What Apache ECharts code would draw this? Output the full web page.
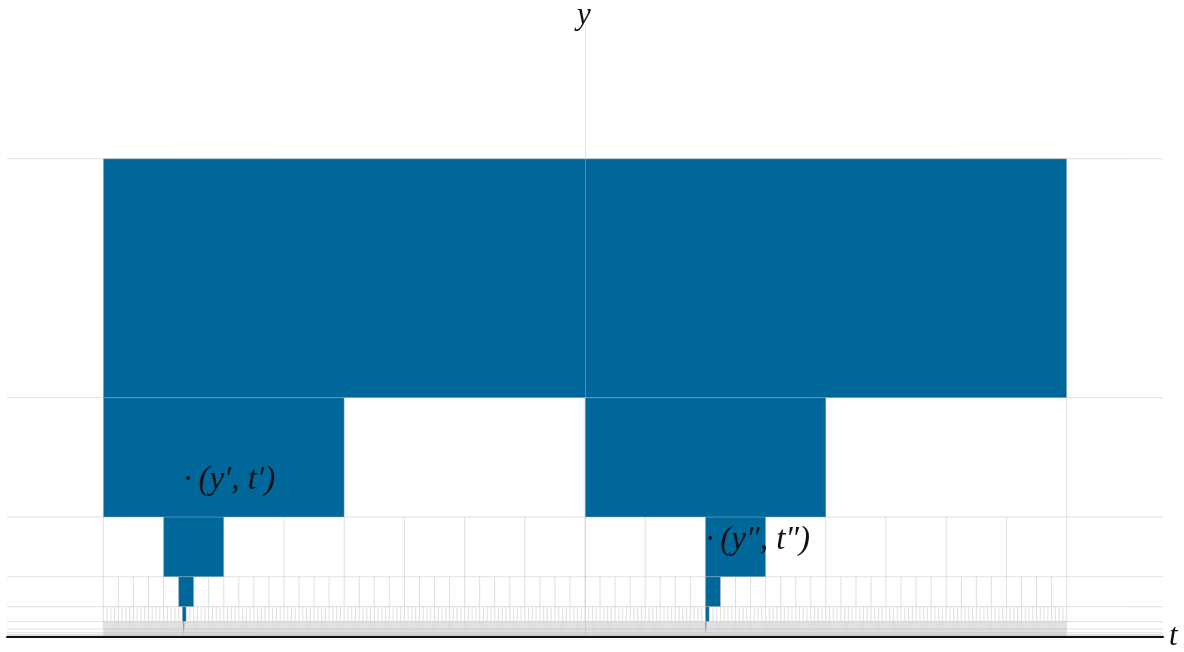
<!DOCTYPE html>
<html>
<head>
<meta charset="utf-8">
<script src="https://cdn.jsdelivr.net/npm/echarts@6/dist/echarts.min.js"></script>
<style>
  html, body { margin: 0; padding: 0; background: #ffffff; }
  #chart { width: 1184px; height: 652px; }
</style>
</head>
<body>
<div id="chart"></div>
<script>
// Dyadic time–scale tiling: each band halves in height and quarters in tile width.
const bandTops = [1, 1/2, 1/4, 1/8, 1/16, 1/32, 1/64, 1/128, 1/256, 1/512];
const tileWidths = [2, 1/2, 1/8, 1/32, 1/128, 1/512, 1/2048, 1/8192, 1/32768];

// Start of the highlighted tile in each band, for the two nested chains.
const leftChainStarts = [-1, -1, -7/8, -27/32, -107/128, -427/512, -1707/2048, -6827/8192, -27307/32768];
const rightChainStarts = [null, 0, 1/4, 1/4, 1/4, 1/4, 1/4, 1/4, 1/4];

// Point labels
const labelTexts = ['\u00b7\u2009(y\u2032, t\u2032)', '\u00b7\u2009(y\u2033, t\u2033)'];
const labelT = [-5/6, 1/4];
const labelY = [0.327, 0.202];

const T_MIN = -1.2, T_MAX = 1.2, Y_MAX = 1.28;
const BLUE = '#00679a';
const LINE = 'rgba(184,184,184,0.45)';
const FONT = '"Liberation Serif", "DejaVu Serif", serif';

// Tiles: [t0, t1, y0, y1]
const tiles = [];
for (let j = 0; j < tileWidths.length; j++) {
  const y0 = bandTops[j + 1], y1 = bandTops[j];
  [leftChainStarts[j], rightChainStarts[j]].forEach(function (s) {
    if (s === null) return;
    tiles.push([s, s + tileWidths[j], y0, y1]);
  });
}

// Grid segments: [ta, ya, tb, yb]
const segments = [];
const lineBands = 6; // bands drawn with individual vertical lines
for (let j = 0; j < lineBands; j++) {
  const w = tileWidths[j];
  const n = Math.round(2 / w);
  for (let k = 0; k <= n; k++) {
    const t = -1 + k * w;
    segments.push([t, bandTops[j + 1], t, bandTops[j]]);
  }
}
for (let j = 0; j < bandTops.length; j++) {
  segments.push([T_MIN, bandTops[j], T_MAX, bandTops[j]]);
}
// Finest bands merge into a solid shade
const shade = [[-1, 1, 0, bandTops[lineBands]]];

function rectItem(fill) {
  return function (params, api) {
    const a = api.coord([api.value(0), api.value(3)]);
    const b = api.coord([api.value(1), api.value(2)]);
    return {
      type: 'rect',
      shape: { x: a[0], y: a[1], width: b[0] - a[0], height: b[1] - a[1] },
      style: { fill: fill }
    };
  };
}

function segmentItem(params, api) {
  const a = api.coord([api.value(0), api.value(1)]);
  const b = api.coord([api.value(2), api.value(3)]);
  return {
    type: 'line',
    shape: { x1: a[0], y1: a[1], x2: b[0], y2: b[1] },
    style: { stroke: LINE, lineWidth: 1 }
  };
}

function labelItem(params, api) {
  const p = api.coord([api.value(0), api.value(1)]);
  return {
    type: 'text',
    x: p[0], y: p[1],
    style: {
      text: labelTexts[params.dataIndex],
      fill: '#111111',
      font: 'italic 33px ' + FONT,
      align: 'left',
      verticalAlign: 'middle'
    }
  };
}

const chart = echarts.init(document.getElementById('chart'), null, { renderer: 'canvas' });
chart.setOption({
  animation: false,
  grid: { left: 7, right: 21, top: 23, bottom: 15 },
  xAxis: {
    type: 'value', min: T_MIN, max: T_MAX, z: 10,
    axisLine: { onZero: true, lineStyle: { color: '#111111', width: 2 } },
    axisTick: { show: false }, axisLabel: { show: false }, splitLine: { show: false },
    name: 't', nameLocation: 'end', nameGap: 6,
    nameTextStyle: { fontFamily: FONT, fontStyle: 'italic', fontSize: 31, color: '#111111', verticalAlign: 'middle', padding: [14, 0, 0, 0] }
  },
  yAxis: {
    type: 'value', min: 0, max: Y_MAX, z: 10,
    axisLine: { onZero: true, lineStyle: { color: LINE, width: 1 } },
    axisTick: { show: false }, axisLabel: { show: false }, splitLine: { show: false },
    name: 'y', nameLocation: 'end', nameGap: -6,
    nameTextStyle: { fontFamily: FONT, fontStyle: 'italic', fontSize: 31, color: '#111111', padding: [0, 2, 0, 0] }
  },
  series: [
    {
      type: 'custom', z: 1, renderItem: rectItem('#dedede'),
      encode: { x: [0, 1], y: [2, 3] }, data: shade, silent: true
    },
    {
      type: 'custom', z: 2, renderItem: rectItem(BLUE),
      encode: { x: [0, 1], y: [2, 3] }, data: tiles, silent: true
    },
    {
      type: 'custom', z: 3, renderItem: segmentItem,
      encode: { x: [0, 2], y: [1, 3] }, data: segments, silent: true
    },
    {
      type: 'custom', z: 4, renderItem: labelItem,
      encode: { x: 0, y: 1 },
      data: labelT.map(function (t, i) { return [t, labelY[i]]; }), silent: true
    }
  ]
});
</script>
</body>
</html>
